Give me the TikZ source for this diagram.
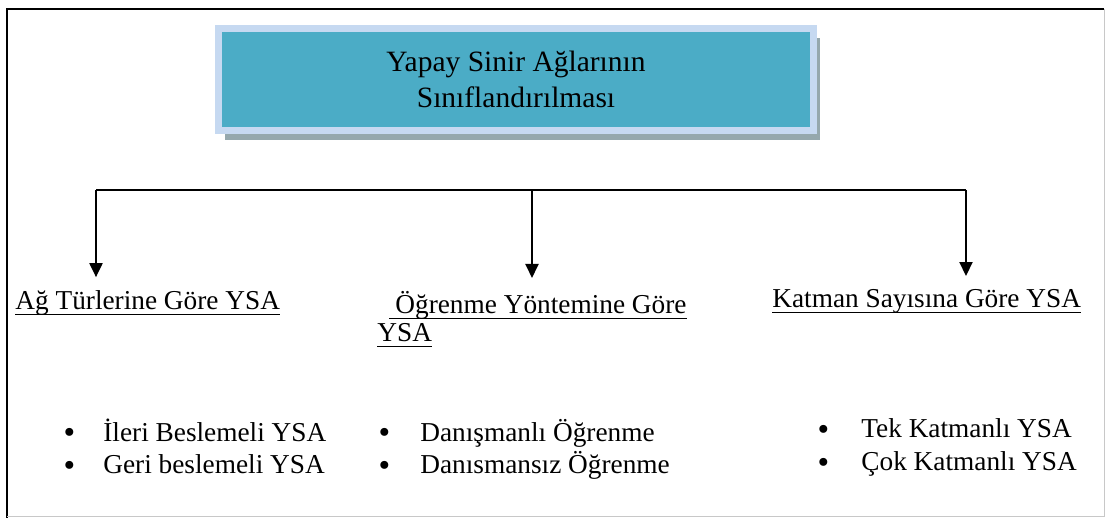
\documentclass[tikz,border=0pt]{standalone}
\usepackage{fontspec}
\setmainfont{Liberation Serif}
\newfontfamily\dvs{DejaVu Sans}
\usetikzlibrary{arrows.meta,positioning,calc,shadows}
\definecolor{ink}{HTML}{000000}
\definecolor{aqua}{HTML}{4BACC6}
\definecolor{rim}{HTML}{C6D9F1}
\definecolor{shd}{HTML}{95A8AD}
\definecolor{edge}{HTML}{C8C8C8}
\tikzset{
  ttl/.style ={draw=rim,line width=3.5pt,fill=aqua,minimum width=297.5pt,minimum height=51pt,align=center,text=ink,
               font=\fontsize{14.75}{18}\selectfont,drop shadow={shadow xshift=3.25pt,shadow yshift=-4.75pt,fill=shd,opacity=1}},
  hd/.style  ={inner sep=0pt,anchor=base west,align=left,text=ink,font=\fontsize{13.65}{14}\selectfont},
  lst/.style ={inner sep=0pt,anchor=base west,align=left,text=ink,font=\fontsize{13.65}{16.5}\selectfont},
  wire/.style={line width=1pt,ink},
  a/.style   ={wire,-{Triangle[width=6.5pt,length=7pt]},shorten >=6.75pt},
}
\newcommand{\ul}[1]{\setbox0\hbox{#1}\rlap{\rule[-2.75pt]{\wd0}{0.55pt}}\box0}
\newcommand{\bit}[2]{\makebox[#1][l]{\raisebox{-0.8pt}{\dvs •}}#2}

\begin{document}
\begin{tikzpicture}[x=0.5pt,y=-0.5pt]
\useasboundingbox (0,0) rectangle (1105,518);
% frame
\draw[line width=1pt,ink] (7,518) -- (7,9) -- (1104,9);
\draw[line width=0.5pt,edge] (1104,9) -- (1104,517) -- (7,517);
% title
\node[ttl] (title) at (516,79.5) {Yapay Sinir Ağlarının\\Sınıflandırılması};
% headings (multi-line nodes sit on their last baseline)
\node[hd] (hAg) at (15,310) {\ul{Ağ Türlerine Göre YSA}};
\node[hd] (hOg) at (377,342) {\hspace*{6pt}\ul{\hspace{3pt}Öğrenme Yöntemine Göre}\\\ul{YSA}};
\node[hd] (hKt) at (772,308) {\ul{Katman Sayısına Göre YSA}};
% bracket and arrows
\coordinate (bl) at (96,190);
\coordinate (bm) at (532,190);
\coordinate (br) at (966,190);
\draw[wire] (bl) -- (br);
\draw[a] (bl) -- (bl |- hAg.north);
\draw[a] (bm) -- (bm |- hOg.north);
\draw[a] (br) -- (br |- hKt.north);
% lists
\node[lst] (lAg) at (61,474) {\bit{21pt}{İleri Beslemeli YSA}\\\bit{21pt}{Geri beslemeli YSA}};
\node[lst] (lOg) at (376,474) {\bit{22pt}{Danışmanlı Öğrenme}\\\bit{22pt}{Danısmansız Öğrenme}};
\node[lst] (lKt) at (815,471) {\bit{23pt}{Tek Katmanlı YSA}\\\bit{23pt}{Çok Katmanlı YSA}};
\end{tikzpicture}
\end{document}
